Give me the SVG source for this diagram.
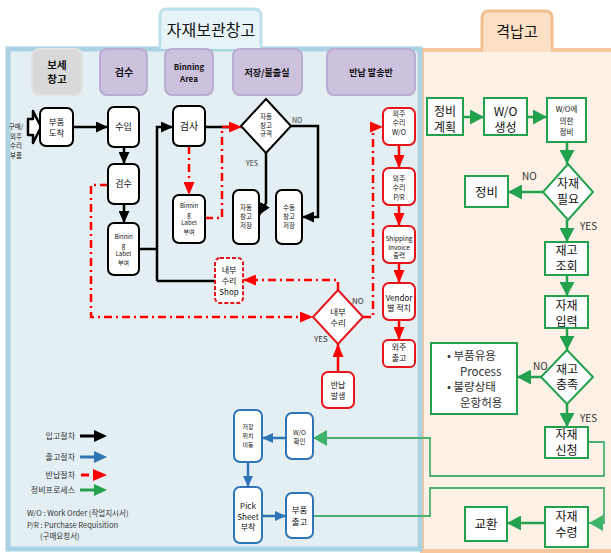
<svg xmlns="http://www.w3.org/2000/svg" width="611" height="553" viewBox="0 0 611 553">
<defs>
<style>
.t{font-family:"Noto Sans CJK KR","Noto Sans",sans-serif;text-anchor:middle;fill:#111}
.s{font-family:"Noto Sans CJK KR","Noto Sans",sans-serif;fill:#333}
.nb{fill:#fff;stroke:#000;stroke-width:2}
.nr{fill:#fff;stroke:#e8141c;stroke-width:2}
.nbl{fill:#fff;stroke:#2e75b6;stroke-width:2}
.ng{fill:#fff;stroke:#22a14f;stroke-width:2}
.hp{fill:#cdc2de;stroke:#b9abd2;stroke-width:2}
.lk{fill:none;stroke:#000;stroke-width:2.5}
.lr{fill:none;stroke:#ff0000;stroke-width:2.5;stroke-dasharray:8 4 2 4}
.lrs{fill:none;stroke:#ff0000;stroke-width:2.5}
.lb{fill:none;stroke:#2e75b6;stroke-width:2.5}
.lg{fill:none;stroke:#22a14f;stroke-width:2.5}
.lgt{fill:none;stroke:#4cb070;stroke-width:1.8}
</style>
<marker id="ak" viewBox="0 0 12 11" refX="12" refY="5.5" markerWidth="12" markerHeight="11" markerUnits="userSpaceOnUse" orient="auto"><path d="M0,0L12,5.5L0,11z" fill="#000"/></marker>
<marker id="ar" viewBox="0 0 13 11" refX="13" refY="5.5" markerWidth="13" markerHeight="11" markerUnits="userSpaceOnUse" orient="auto"><path d="M0,0L13,5.5L0,11z" fill="#ff0000"/></marker>
<marker id="ab" viewBox="0 0 11 10" refX="11" refY="5" markerWidth="11" markerHeight="10" markerUnits="userSpaceOnUse" orient="auto"><path d="M0,0L11,5L0,10z" fill="#2e75b6"/></marker>
<marker id="ag" viewBox="0 0 14 15" refX="14" refY="7.5" markerWidth="14" markerHeight="15" markerUnits="userSpaceOnUse" orient="auto"><path d="M0,0L14,7.5L0,15z" fill="#22a14f"/></marker>
<marker id="agl" viewBox="0 0 14 16" refX="14" refY="8" markerWidth="14" markerHeight="16" markerUnits="userSpaceOnUse" orient="auto"><path d="M0,0L14,8L0,16z" fill="#3db46a"/></marker>
</defs>

<!-- panels -->
<g id="panel-hangar">
<rect x="422" y="50" width="191" height="501" fill="#fdf0e5" stroke="#f5c69b" stroke-width="4"/>
<path d="M482,50 V18 Q482,11 489,11 H545 Q552,11 552,18 V50" fill="#fce0c6" stroke="#f3be8e" stroke-width="3"/>
<rect x="483" y="46" width="68" height="6" fill="#fce0c6"/>
<text class="t" x="517" y="37" font-size="15">격납고</text>
</g>
<g id="panel-storage">
<rect x="8" y="49" width="412" height="500" fill="#e3eff3" stroke="#a9d3e5" stroke-width="5"/>
<path d="M160,49 V16 Q160,9 167,9 H254 Q261,9 261,16 V49" fill="#e6f3f7" stroke="#bde0ec" stroke-width="3"/>
<rect x="161" y="44" width="99" height="4" fill="#e6f3f7"/>
<text class="t" x="211" y="36" font-size="16">자재보관창고</text>
</g>

<!-- lane headers -->
<g id="hdr-bonded"><rect x="32" y="49" width="50" height="46" rx="7" fill="#d9d9d9" stroke="#e2e2e2" stroke-width="2"/>
<text class="t" x="57" y="69" font-size="10.5" font-weight="bold"><tspan x="57">보세</tspan><tspan x="57" dy="14">창고</tspan></text></g>
<g id="hdr-inspect"><rect class="hp" x="100" y="49" width="47" height="46" rx="7"/><text class="t" x="124" y="76" font-size="10" font-weight="bold">검수</text></g>
<g id="hdr-binning"><rect class="hp" x="165" y="49" width="48" height="46" rx="7"/>
<text class="t" x="189" y="70" font-size="8" font-weight="bold"><tspan x="189">Binning</tspan><tspan x="189" dy="12">Area</tspan></text></g>
<g id="hdr-store"><rect class="hp" x="233" y="49" width="69" height="46" rx="7"/><text class="t" x="267" y="76" font-size="9" font-weight="bold">저장/불출실</text></g>
<g id="hdr-return"><rect class="hp" x="327" y="49" width="88" height="46" rx="7"/><text class="t" x="371" y="76" font-size="9" font-weight="bold">반납 발송반</text></g>

<!-- connectors -->
<g id="connectors">
<path class="lk" d="M73,127H108" marker-end="url(#ak)"/>
<path class="lk" d="M124,147V164" marker-end="url(#ak)"/>
<path class="lk" d="M124,204V223" marker-end="url(#ak)"/>
<path class="lk" d="M139,249H157"/>
<path class="lk" d="M157,281V127H173" marker-end="url(#ak)"/>
<path class="lk" d="M157,281H215"/>
<path class="lk" d="M205,127H232"/>
<path class="lk" d="M291,126H318V217H302" marker-end="url(#ak)"/>
<path class="lk" d="M266,153V203L259,215" marker-end="url(#ak)"/>

<path class="lr" d="M189,146V195" marker-end="url(#ar)"/>
<path class="lr" d="M205,218H222V127H242" marker-end="url(#ar)"/>
<path class="lr" d="M108,185H91V317H313" marker-end="url(#ar)"/>
<path class="lr" d="M338,290V280H243" marker-end="url(#ar)"/>
<path class="lr" d="M363,317H373V127H383" marker-end="url(#ar)"/>
<path class="lrs" d="M338,372V344" marker-end="url(#ar)"/>
<path class="lrs" d="M399,145V168" marker-end="url(#ar)"/>
<path class="lrs" d="M399,205V226" marker-end="url(#ar)"/>
<path class="lrs" d="M399,263V283" marker-end="url(#ar)"/>
<path class="lrs" d="M399,320V340" marker-end="url(#ar)"/>

<path class="lb" d="M286,438H262" marker-end="url(#ab)"/>
<path class="lb" d="M248,462V487" marker-end="url(#ab)"/>
<path class="lb" d="M262,516H286" marker-end="url(#ab)"/>

<path class="lg" d="M463,117H484" marker-end="url(#ag)"/>
<path class="lg" d="M527,117H547" marker-end="url(#ag)"/>
<path class="lg" d="M567,142V164" marker-end="url(#ag)"/>
<path class="lg" d="M543,192H508" marker-end="url(#ag)"/>
<path class="lg" d="M567,220V242" marker-end="url(#ag)"/>
<path class="lg" d="M567,275V296" marker-end="url(#ag)"/>
<path class="lg" d="M567,328V350" marker-end="url(#ag)"/>
<path class="lg" d="M543,377H517" marker-end="url(#ag)"/>
<path class="lg" d="M567,404V427" marker-end="url(#ag)"/>
<path class="lg" d="M545,523H507" marker-end="url(#ag)"/>
<path class="lgt" d="M588,442H604V476H430V438H313" marker-end="url(#agl)"/>
<path class="lgt" d="M313,516H430V488H604V523H589" marker-end="url(#agl)"/>
</g>

<!-- black (receiving) nodes -->
<g id="n-input">
<path d="M28,119H33V111L41,127L33,143V135H28Z" fill="#fff" stroke="#000" stroke-width="2.5" stroke-linejoin="round"/>
<text class="t" x="16" y="129" font-size="6.5"><tspan x="16">구매/</tspan><tspan x="16" dy="9.5">외주</tspan><tspan x="16" dy="9.5">수리</tspan><tspan x="16" dy="9.5">부품</tspan></text>
</g>
<g id="n-arrive"><rect class="nb" x="40" y="108" width="33" height="38" rx="6"/>
<text class="t" x="56.5" y="125" font-size="8.5"><tspan x="56.5">부품</tspan><tspan x="56.5" dy="11.2">도착</tspan></text></g>
<g id="n-receive"><rect class="nb" x="108" y="107" width="31" height="40" rx="6"/><text class="t" x="123.5" y="130" font-size="9">수입</text></g>
<g id="n-inspect"><rect class="nb" x="108" y="164" width="31" height="40" rx="6"/><text class="t" x="123.5" y="187" font-size="9">검수</text></g>
<g id="n-binlabel1"><rect class="nb" x="108" y="223" width="31" height="52" rx="6"/>
<text class="t" x="123.5" y="239" font-size="6"><tspan x="123.5">Binnin</tspan><tspan x="123.5" dy="8.7">g</tspan><tspan x="123.5" dy="8.7">Label</tspan><tspan x="123.5" dy="8.7">부여</tspan></text></g>
<g id="n-check"><rect class="nb" x="173" y="106" width="32" height="40" rx="6"/><text class="t" x="189" y="130" font-size="10">검사</text></g>
<g id="n-binlabel2"><rect class="nb" x="173" y="195" width="32" height="48" rx="6"/>
<text class="t" x="189" y="208" font-size="6"><tspan x="189">Binnin</tspan><tspan x="189" dy="8.7">g</tspan><tspan x="189" dy="8.7">Label</tspan><tspan x="189" dy="8.7">부여</tspan></text></g>
<g id="n-autospec"><path d="M266,99L291,126L266,153L241,126Z" fill="#fff" stroke="#000" stroke-width="2"/>
<text class="t" x="266" y="119" font-size="6.5"><tspan x="266">자동</tspan><tspan x="266" dy="8.6">창고</tspan><tspan x="266" dy="8.6">규격</tspan></text></g>
<text class="s" x="292" y="123" font-size="7">NO</text>
<text class="s" x="246" y="166" font-size="7">YES</text>
<g id="n-autostore"><rect class="nb" x="233" y="190" width="26" height="54" rx="6"/>
<text class="t" x="246" y="210" font-size="6.5"><tspan x="246">자동</tspan><tspan x="246" dy="9">창고</tspan><tspan x="246" dy="9">저장</tspan></text></g>
<g id="n-manualstore"><rect class="nb" x="276" y="190" width="26" height="54" rx="6"/>
<text class="t" x="289" y="210" font-size="6.5"><tspan x="289">수동</tspan><tspan x="289" dy="9">창고</tspan><tspan x="289" dy="9">저장</tspan></text></g>

<!-- red (return) nodes -->
<g id="n-shop"><rect x="215" y="258" width="28" height="45" rx="5" fill="#fff" stroke="#e8141c" stroke-width="2" stroke-dasharray="4 2"/>
<text class="t" x="229" y="273" font-size="8"><tspan x="229">내부</tspan><tspan x="229" dy="11">수리</tspan><tspan x="229" dy="11">Shop</tspan></text></g>
<g id="n-internal"><path d="M338,290L363,317L338,344L313,317Z" fill="#fff" stroke="#e8141c" stroke-width="2"/>
<text class="t" x="338" y="315" font-size="8.5"><tspan x="338">내부</tspan><tspan x="338" dy="11.2">수리</tspan></text></g>
<text class="s" x="352" y="304" font-size="8">NO</text>
<text class="s" x="314" y="342" font-size="8">YES</text>
<g id="n-return"><rect class="nr" x="322" y="372" width="32" height="36" rx="6"/>
<text class="t" x="338" y="388" font-size="8"><tspan x="338">반납</tspan><tspan x="338" dy="11">발생</tspan></text></g>
<g id="n-ext-wo"><rect class="nr" x="383" y="108" width="32" height="37" rx="6"/>
<text class="t" x="399" y="115.5" font-size="7"><tspan x="399">외주</tspan><tspan x="399" dy="9.5">수리</tspan><tspan x="399" dy="9.5">W/O</tspan></text></g>
<g id="n-ext-pr"><rect class="nr" x="383" y="168" width="32" height="37" rx="6"/>
<text class="t" x="399" y="180.5" font-size="7"><tspan x="399">외주</tspan><tspan x="399" dy="9.5">수리</tspan><tspan x="399" dy="9.5">P/R</tspan></text></g>
<g id="n-invoice"><rect class="nr" x="383" y="226" width="32" height="37" rx="6"/>
<text class="t" x="399" y="241" font-size="6.5"><tspan x="399">Shipping</tspan><tspan x="399" dy="8.5">Invoice</tspan><tspan x="399" dy="8.5">출력</tspan></text></g>
<g id="n-vendor"><rect class="nr" x="383" y="283" width="32" height="37" rx="6"/>
<text class="t" x="399" y="300.5" font-size="8"><tspan x="399">Vendor</tspan><tspan x="399" dy="10.5">별 적치</tspan></text></g>
<g id="n-extout"><rect class="nr" x="383" y="340" width="32" height="27" rx="5"/>
<text class="t" x="399" y="350" font-size="8"><tspan x="399">외주</tspan><tspan x="399" dy="11">출고</tspan></text></g>

<!-- blue (issue) nodes -->
<g id="n-wocheck"><rect class="nbl" x="286" y="413" width="27" height="46" rx="6"/>
<text class="t" x="299.5" y="435" font-size="6.5"><tspan x="299.5">W/O</tspan><tspan x="299.5" dy="9">확인</tspan></text></g>
<g id="n-move"><rect class="nbl" x="234" y="410" width="28" height="52" rx="6"/>
<text class="t" x="248" y="429" font-size="6"><tspan x="248">저장</tspan><tspan x="248" dy="9">위치</tspan><tspan x="248" dy="9">이동</tspan></text></g>
<g id="n-pick"><rect class="nbl" x="234" y="487" width="28" height="56" rx="6"/>
<text class="t" x="248" y="509" font-size="8"><tspan x="248">Pick</tspan><tspan x="248" dy="10.5">Sheet</tspan><tspan x="248" dy="10.5">부착</tspan></text></g>
<g id="n-issue"><rect class="nbl" x="286" y="493" width="27" height="45" rx="6"/>
<text class="t" x="299.5" y="513" font-size="8.5"><tspan x="299.5">부품</tspan><tspan x="299.5" dy="12">출고</tspan></text></g>

<!-- green (maintenance) nodes -->
<g id="n-plan"><rect class="ng" x="427" y="98" width="36" height="37"/>
<text class="t" x="445" y="116" font-size="12"><tspan x="445">정비</tspan><tspan x="445" dy="15.6">계획</tspan></text></g>
<g id="n-wocreate"><rect class="ng" x="484" y="98" width="43" height="37"/>
<text class="t" x="505.5" y="116" font-size="12"><tspan x="505.5">W/O</tspan><tspan x="505.5" dy="15.6">생성</tspan></text></g>
<g id="n-womaint"><rect class="ng" x="547" y="98" width="39" height="44"/>
<text class="t" x="566.5" y="112" font-size="7.5"><tspan x="566.5">W/O에</tspan><tspan x="566.5" dy="11.5">의한</tspan><tspan x="566.5" dy="11.5">정비</tspan></text></g>
<g id="n-need"><path d="M568,164L593,192L568,220L543,192Z" fill="#fff" stroke="#22a14f" stroke-width="2"/>
<text class="t" x="568" y="188" font-size="12"><tspan x="568">자재</tspan><tspan x="568" dy="15.6">필요</tspan></text></g>
<text class="s" x="522" y="180" font-size="10">NO</text>
<text class="s" x="580" y="230" font-size="10">YES</text>
<g id="n-maint"><rect class="ng" x="465" y="176" width="43" height="31"/><text class="t" x="486.5" y="196.5" font-size="12.5">정비</text></g>
<g id="n-stockq"><rect class="ng" x="545" y="242" width="43" height="33"/>
<text class="t" x="566.5" y="255" font-size="12"><tspan x="566.5">재고</tspan><tspan x="566.5" dy="15.6">조회</tspan></text></g>
<g id="n-input2"><rect class="ng" x="545" y="296" width="43" height="32"/>
<text class="t" x="566.5" y="310" font-size="12"><tspan x="566.5">자재</tspan><tspan x="566.5" dy="15.6">입력</tspan></text></g>
<g id="n-enough"><path d="M567,350L593,377L567,404L541,377Z" fill="#fff" stroke="#22a14f" stroke-width="2"/>
<text class="t" x="567" y="373.5" font-size="12"><tspan x="567">재고</tspan><tspan x="567" dy="15.6">충족</tspan></text></g>
<text class="s" x="533" y="370" font-size="10">NO</text>
<text class="s" x="580" y="422" font-size="10">YES</text>
<g id="n-alt"><rect class="ng" x="431" y="343" width="86" height="71"/>
<text class="s" font-size="11.5" fill="#111"><tspan x="447" y="360">• 부품유용</tspan><tspan x="460" y="375.5">Process</tspan><tspan x="447" y="391">• 불량상태</tspan><tspan x="460" y="406.5">운항허용</tspan></text></g>
<g id="n-request"><rect class="ng" x="545" y="427" width="43" height="31"/>
<text class="t" x="566.5" y="439" font-size="12"><tspan x="566.5">자재</tspan><tspan x="566.5" dy="15.6">신청</tspan></text></g>
<g id="n-receipt"><rect class="ng" x="545" y="507" width="43" height="40"/>
<text class="t" x="566.5" y="521" font-size="12"><tspan x="566.5">자재</tspan><tspan x="566.5" dy="15.6">수령</tspan></text></g>
<g id="n-exchange"><rect class="ng" x="465" y="507" width="42" height="34"/><text class="t" x="486" y="528.5" font-size="12.5">교환</text></g>

<!-- legend -->
<g id="legend">
<text class="s" x="75" y="439" font-size="8" text-anchor="end">입고절차</text>
<path d="M80,436H95" stroke="#000" stroke-width="3"/><path d="M94,430L107,436L94,442z" fill="#000"/>
<text class="s" x="75" y="460" font-size="8" text-anchor="end">출고절차</text>
<path d="M80,457H95" stroke="#2e75b6" stroke-width="3"/><path d="M94,451L107,457L94,463z" fill="#2e75b6"/>
<text class="s" x="75" y="478" font-size="8" text-anchor="end">반납절차</text>
<path d="M81,475H89" stroke="#ff0000" stroke-width="3"/><path d="M93,469L107,475L93,481z" fill="#ff0000"/>
<text class="s" x="75" y="493" font-size="8" text-anchor="end">정비프로세스</text>
<path d="M80,490H95" stroke="#22a14f" stroke-width="3"/><path d="M94,484L107,490L94,496z" fill="#22a14f"/>
<text class="s" x="27" y="516" font-size="7.5">W/O : Work Order (작업지시서)</text>
<text class="s" x="27" y="528" font-size="7.5">P/R : Purchase Requisition</text>
<text class="s" x="40" y="539" font-size="7.5">(구매요청서)</text>
</g>
</svg>
